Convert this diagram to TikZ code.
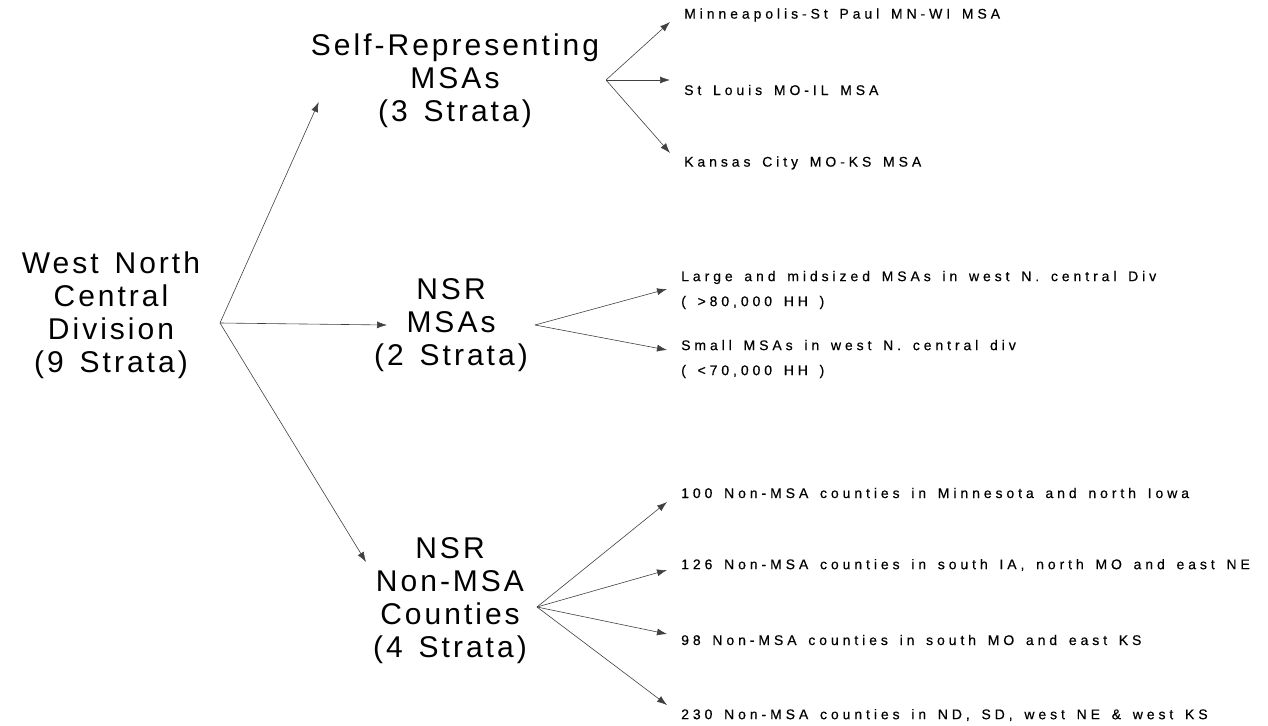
\documentclass[tikz,border=0pt]{standalone}
\usepackage{fontspec}
\setmainfont{Liberation Sans}
\newfontfamily\grandfont[LetterSpace=10,WordSpace=1.4]{Liberation Sans}
\newfontfamily\petitfont[LetterSpace=28,WordSpace=1.5,FakeBold=0.4]{Liberation Sans}
\usetikzlibrary{arrows.meta}

\begin{document}
\begin{tikzpicture}[x=1pt,y=-1pt]
        \tikzstyle{bloc}=[align=center, inner sep=0, font=\grandfont\fontsize{30}{33}\selectfont];
        \tikzstyle{feuille}=[anchor=west, align=left, inner sep=0, font=\petitfont\fontsize{14}{25}\selectfont];
        \tikzstyle{fleche}=[draw=black!75, line width=0.6pt, -{Latex[length=10pt,width=7pt]}];

        \useasboundingbox (0,0) rectangle (1268,725);

        \node[bloc] (wnc) at (111,315) {West North\\Central\\Division\\(9 Strata)};
        \node[bloc] (sr) at (455,81) {Self-Representing\\MSAs\\(3 Strata)};
        \node[bloc] (nsrm) at (451,325) {NSR\\MSAs\\(2 Strata)};
        \node[bloc] (nsrc) at (450,601) {NSR\\Non-MSA\\Counties\\(4 Strata)};

        \coordinate (wf) at (220,323);
        \coordinate (sf) at (606,80);
        \coordinate (mf) at (535,325);
        \coordinate (cf) at (537,607);

        \node[feuille] (m1) at (684,15) {Minneapolis-St Paul MN-WI MSA};
        \node[feuille] (m2) at (684,90) {St Louis MO-IL MSA};
        \node[feuille] (m3) at (684,163) {Kansas City MO-KS MSA};
        \node[feuille] (l1) at (681,290) {Large and midsized MSAs in west N. central Div\\( >80,000 HH )};
        \node[feuille] (l2) at (681,359) {Small MSAs in west N. central div\\( <70,000 HH )};
        \node[feuille] (c1) at (681,493) {100 Non-MSA counties in Minnesota and north Iowa};
        \node[feuille] (c2) at (681,565) {126 Non-MSA counties in south IA, north MO and east NE};
        \node[feuille] (c3) at (681,640) {98 Non-MSA counties in south MO and east KS};
        \node[feuille] (c4) at (681,715) {230 Non-MSA counties in ND, SD, west NE \& west KS};

        \draw[fleche] (wf) -- ([xshift=8pt,yshift=-21pt]sr.west);
        \draw[fleche] (wf) -- ([xshift=13pt]nsrm.west);
        \draw[fleche] (wf) -- ([xshift=-7pt,yshift=39pt]nsrc.west);

        \foreach \f/\n/\dy in {sf/m1/-7, sf/m2/10, sf/m3/10, mf/l1/1, mf/l2/9,
                               cf/c1/-9, cf/c2/-5, cf/c3/6, cf/c4/10}{
          \draw[fleche] (\f) -- ([xshift=-14pt,yshift=\dy pt]\n.west);
        }
\end{tikzpicture}
\end{document}
